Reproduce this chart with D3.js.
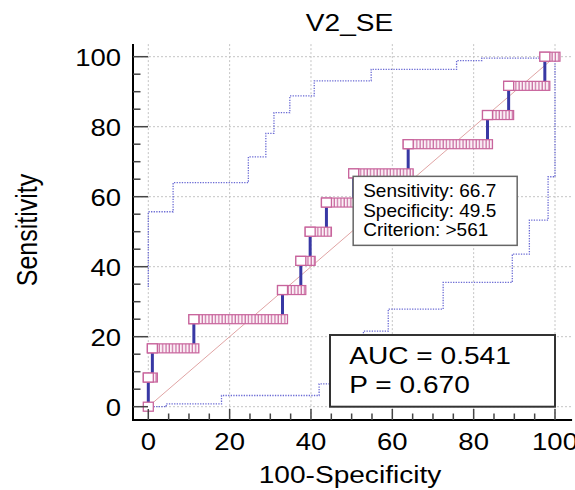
<!DOCTYPE html>
<html>
<head>
<meta charset="utf-8">
<script src="https://cdn.jsdelivr.net/npm/d3@7"></script>
<style>
    body { margin: 0; background: #fff; }
    text { font-family: "Liberation Sans", Arial, sans-serif; fill: #000; }
</style>
</head>
<body>
<div id="chart"></div>
<script>

// ROC steps: sensitivity level and the 100-specificity range it covers
const sensLevels = [0, 8.33, 16.67, 25, 33.33, 41.67, 50, 58.33, 66.67, 75, 83.33, 91.67, 100];
const fprStart = [0, 0, 1, 11.2, 33, 37.5, 39.8, 43.8, 50.5, 63.9, 83.4, 88.6, 97.5];
const fprEnd = [0, 1, 11.2, 33, 37.5, 39.8, 43.8, 50.5, 63.9, 83.4, 88.6, 97.5, 100];

// confidence bounds (step corners)
const upperFpr = [0, 0, 6.1, 24.6, 28.9, 30.9, 34.8, 40.8, 54.8, 75.8, 82, 100];
const upperSens = [34.2, 55.7, 64, 71.4, 78.1, 84, 88.8, 93.1, 96.4, 98.9, 99.6, 99.6];
const lowerFpr = [0, 4.4, 18, 42, 47, 50.5, 52.9, 59, 72.5, 89.5, 93.7, 98.3, 100, 100];
const lowerSens = [0, 0.8, 3.2, 6.5, 11, 16, 21.6, 27.9, 35.5, 43.6, 53.3, 65.7, 98, 100];

const ticks = [0, 20, 40, 60, 80, 100];
const minorTicks = d3.range(0, 101, 5);

const criterion = {fpr: 50.5, sens: 66.67};
const critLines = ["Sensitivity: 66.7", "Specificity: 49.5", "Criterion: >561"];
const aucLines = ["AUC = 0.541", "P = 0.670"];

const W = 575, H = 490;
const stretch = 1.17;

let svg = d3.select("#chart").append("svg")
    .attr("width", W)
    .attr("height", H);

let x = d3.scaleLinear().domain([0, 100]).range([148.3, 555]);
let y = d3.scaleLinear().domain([0, 100]).range([406.7, 56.7]);

let axisX = 133, axisY = 420;
let xMax = x(104.2), yMax = y(103.6);

// text helper: the picture's fonts are stretched sideways a bit
function wideText(g, str, tx, ty, size, anchor) {
    return g.append("text")
        .attr("transform", "translate(" + tx + "," + ty + ") scale(" + stretch + ",1)")
        .attr("text-anchor", anchor)
        .style("font-size", size + "px")
        .text(str);
}

// hatch pattern for runs of points
let defs = svg.append("defs");
let pat = defs.append("pattern")
    .attr("id", "hatch")
    .attr("patternUnits", "userSpaceOnUse")
    .attr("width", 3.3)
    .attr("height", 10);
pat.append("rect").attr("width", 3.3).attr("height", 10).attr("fill", "#fbf1f6");
pat.append("line")
    .attr("x1", 1).attr("x2", 1).attr("y1", 0).attr("y2", 10)
    .attr("stroke", "#c45e98").attr("stroke-width", 1.1);

// grid
let grid = svg.append("g");
grid.selectAll(".hg").data(ticks).enter().append("line")
    .attr("x1", axisX).attr("x2", xMax)
    .attr("y1", d => y(d)).attr("y2", d => y(d))
    .attr("stroke", "#c4c4c4").attr("stroke-dasharray", "2,2");
grid.selectAll(".vg").data(ticks).enter().append("line")
    .attr("x1", d => x(d)).attr("x2", d => x(d))
    .attr("y1", yMax).attr("y2", axisY)
    .attr("stroke", "#c4c4c4").attr("stroke-dasharray", "2,2");

// reference diagonal
svg.append("line")
    .attr("x1", x(0)).attr("y1", y(0))
    .attr("x2", x(100)).attr("y2", y(100))
    .attr("stroke", "#e0a4a4").attr("stroke-width", 1);

// confidence bounds
let stepLine = d3.line()
    .x(d => x(d[0]))
    .y(d => y(d[1]))
    .curve(d3.curveStepAfter);

[[upperFpr, upperSens], [lowerFpr, lowerSens]].forEach(b => {
    svg.append("path")
        .attr("d", stepLine(b[0].map((f, i) => [f, b[1][i]])))
        .attr("fill", "none")
        .attr("stroke", "#6a6ad4")
        .attr("stroke-width", 1.3)
        .attr("stroke-dasharray", "1.3,1.3");
});

// ROC vertical segments
let steps = sensLevels.map((s, i) => ({sens: s, f0: fprStart[i], f1: fprEnd[i], prev: i > 0 ? sensLevels[i - 1] : s}));

svg.selectAll(".vstep").data(steps.slice(1)).enter().append("line")
    .attr("x1", d => x(d.f0)).attr("x2", d => x(d.f0))
    .attr("y1", d => y(d.prev)).attr("y2", d => y(d.sens))
    .attr("stroke", "#3838a4").attr("stroke-width", 3);

// markers
let mw = 10, mh = 9;
let runs = svg.selectAll(".run").data(steps).enter().append("g");
runs.filter(d => d.f1 > d.f0).append("rect")
    .attr("x", d => x(d.f0) - mw / 2)
    .attr("y", d => y(d.sens) - mh / 2)
    .attr("width", d => x(d.f1) - x(d.f0) + mw)
    .attr("height", mh)
    .attr("fill", "url(#hatch)")
    .attr("stroke", "#c8649c").attr("stroke-width", 1.2);
runs.append("rect")
    .attr("x", d => x(d.f0) - mw / 2)
    .attr("y", d => y(d.sens) - mh / 2)
    .attr("width", mw)
    .attr("height", mh)
    .attr("fill", "#fff")
    .attr("stroke", "#c8649c").attr("stroke-width", 1.3);

// axes lines
svg.append("line")
    .attr("x1", axisX).attr("x2", axisX).attr("y1", yMax).attr("y2", axisY + 1)
    .attr("stroke", "#000").attr("stroke-width", 2);
svg.append("line")
    .attr("x1", axisX - 1).attr("x2", xMax).attr("y1", axisY).attr("y2", axisY)
    .attr("stroke", "#000").attr("stroke-width", 2);

// ticks
let tk = svg.append("g").attr("stroke", "#444").attr("stroke-width", 1.5);
tk.selectAll(".ymin").data(minorTicks).enter().append("line")
    .attr("x1", axisX).attr("x2", d => axisX + (d % 20 === 0 ? 15 : 7.5))
    .attr("y1", d => y(d)).attr("y2", d => y(d));
tk.selectAll(".xmin").data(minorTicks).enter().append("line")
    .attr("y1", axisY).attr("y2", d => axisY - (d % 20 === 0 ? 11 : 6.5))
    .attr("x1", d => x(d)).attr("x2", d => x(d));

// tick labels
ticks.forEach(t => {
    wideText(svg, t, 121, y(t) + 9.3, 23.5, "end");
    wideText(svg, t, x(t), 450, 23.5, "middle");
});

// titles
wideText(svg, "V2_SE", 349.5, 30.7, 24, "middle");
wideText(svg, "100-Specificity", 350, 483, 24, "middle");
svg.append("text")
    .attr("transform", "translate(36.5,230) scale(" + stretch + ",1) rotate(-90)")
    .attr("text-anchor", "middle")
    .style("font-size", "25px")
    .text("Sensitivity");

// criterion note
let cx0 = x(criterion.fpr) - 0.5, cy0 = y(criterion.sens) + 3;
svg.append("rect")
    .attr("x", cx0).attr("y", cy0)
    .attr("width", 164).attr("height", 69)
    .attr("fill", "#fff").attr("stroke", "#666").attr("stroke-width", 1.5);
critLines.forEach((s, i) => {
    svg.append("text")
        .attr("x", cx0 + 10).attr("y", cy0 + 20.7 + i * 19.6)
        .style("font-size", "19px")
        .text(s);
});

// AUC box
let ax0 = 330, ay0 = 335;
svg.append("rect")
    .attr("x", ax0).attr("y", ay0)
    .attr("width", x(100) - ax0).attr("height", y(0) - ay0)
    .attr("fill", "#fff").attr("stroke", "#333").attr("stroke-width", 2);
aucLines.forEach((s, i) => {
    wideText(svg, s, 349.3, 364.3 + i * 29, 24, "start");
});

</script>
</body>
</html>
